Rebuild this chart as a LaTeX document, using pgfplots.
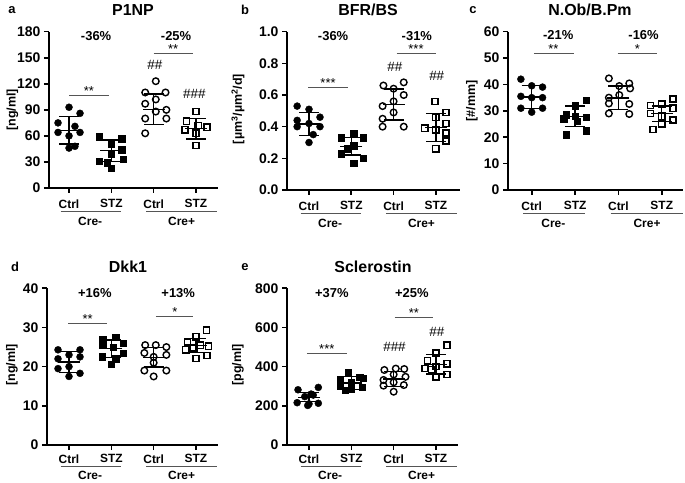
\documentclass[border=0pt]{standalone}
\usepackage{fontspec}
\setmainfont{Liberation Sans}
\usepackage{pgfplots}
\pgfplotsset{compat=1.18}
\definecolor{lgray}{RGB}{85,85,85}
\newcommand{\lblfont}{\fontsize{12}{12}\selectfont\bfseries}
\newcommand{\ylfont}{\fontsize{12.5}{12.5}\selectfont\bfseries}
\newcommand{\pctfont}{\fontsize{13}{13}\selectfont\bfseries}
\newcommand{\starfont}{\fontsize{13}{13}\selectfont}
\newcommand{\hashfont}{\fontsize{13.5}{13.5}\selectfont}
\newcommand{\ttlfont}{\fontsize{16}{16}\selectfont\bfseries}
\pgfplotsset{
 panel/.style={
  scale only axis, anchor=south west,
  axis x line*=bottom, axis y line*=left,
  axis line style={line width=1.6bp, black},
  tick style={line width=1.6bp, black},
  major tick length=5bp, tick align=outside,
  xtick={0,1,2,3}, xticklabels={Ctrl,STZ,Ctrl,STZ},
  xticklabel style={font=\lblfont, yshift=-3bp},
  yticklabel style={font=\fontsize{14}{14}\selectfont\bfseries},
  /pgf/number format/assume math mode=true,
  clip=false, ymin=0,
 },
 fc/.style={only marks, black, mark=*, mark size=3.5bp},
 fs/.style={only marks, black, mark=square*, mark size=3.2bp},
 oc/.style={only marks, black, mark=o, mark size=3.3bp, mark options={line width=1.4bp}},
 os/.style={only marks, black, mark=square, mark size=3.1bp, mark options={line width=1.4bp}},
 msd/.style={only marks, black, mark=-, mark size=11bp, mark options={line width=1.4bp},
   error bars/.cd, y dir=both, y explicit,
   error bar style={line width=1.4bp, black},
   error mark options={rotate=90, mark size=10bp, line width=1.4bp, black}},
}
\newcommand{\grp}[2]{%
 \draw[lgray, line width=1bp] ([yshift=-#1]axis cs:-0.2,0) -- ([yshift=-#1]axis cs:1.22,0);
 \draw[lgray, line width=1bp] ([yshift=-#1]axis cs:1.82,0) -- ([yshift=-#1]axis cs:3.5,0);
 \node[font=\lblfont] at ([yshift=-#2]axis cs:0.5,0) {Cre-};
 \node[font=\lblfont] at ([yshift=-#2]axis cs:2.66,0) {Cre+};
}
\newcommand{\br}[5]{%
 \draw[lgray, line width=1bp] (axis cs:#1,#3) -- (axis cs:#2,#3);
 \node[font=\starfont, anchor=base, inner sep=0pt] at ([yshift=0bp]axis cs:#4,#3) {#5};
}
\begin{document}
\begin{tikzpicture}
\useasboundingbox (0,0) rectangle (685bp,483bp);
% ---------------- panel a
\begin{axis}[panel, at={(49bp,295bp)}, width=169bp, height=156.3bp,
  xmin=-0.473, xmax=3.52, ymax=180, ytick={0,30,...,180}]
\addplot[fc] coordinates {(0,93) (0.26,86) (-0.26,75) (0.14,71) (-0.26,64) (0.26,64) (0,60) (0.14,48) (0,46)};
\addplot[fs] coordinates {(0.72,59) (1.24,57) (1,51) (1.24,44) (1,39) (1.28,33) (0.72,31) (0.9,29) (1,23)};
\addplot[oc] coordinates {(2.05,123) (1.8,110) (2.28,110) (2.05,102) (1.8,97) (2.3,90) (2.05,88) (1.8,80) (2.3,80) (1.8,63)};
\addplot[os] coordinates {(3,88) (2.78,77) (3.05,72) (3.26,70) (2.74,67) (3,63) (3,49)};
\addplot[msd] coordinates {(0,66.5) +- (0,16) (1,43) +- (0,12.5) (2,90.6) +- (0,17.8) (3,68.3) +- (0,12)};
\node[font=\pctfont] at (axis cs:0.64,175) {-36\%};
\node[font=\pctfont] at (axis cs:2.53,175) {-25\%};
\br{0}{0.95}{107}{0.47}{**}
\br{2}{2.92}{155}{2.46}{**}
\node[font=\hashfont] at (axis cs:2.03,141.7) {\#\#};
\node[font=\hashfont] at (axis cs:2.96,108.4) {\#\#\#};
\grp{23.5bp}{33.7bp}
\end{axis}
% ---------------- panel b
\begin{axis}[panel, at={(287bp,293bp)}, width=173bp, height=158.3bp,
  xmin=-0.52, xmax=3.57, ymax=1.0, ytick={0,0.2,...,1.0},
  yticklabel style={/pgf/number format/.cd, fixed, fixed zerofill, precision=1}]
\addplot[fc] coordinates {(-0.28,0.53) (0,0.51) (0.26,0.46) (-0.28,0.44) (0,0.42) (-0.28,0.40) (0.26,0.40) (0.1,0.35) (0,0.30)};
\addplot[fs] coordinates {(1.06,0.36) (0.76,0.33) (1.28,0.33) (1.06,0.28) (0.9,0.26) (0.76,0.23) (1.28,0.20) (1.06,0.17)};
\addplot[oc] coordinates {(2.24,0.68) (1.76,0.66) (2,0.64) (2.24,0.60) (2,0.56) (1.74,0.53) (2,0.49) (1.74,0.45) (2.24,0.40) (1.74,0.40)};
\addplot[os] coordinates {(2.98,0.56) (3.24,0.49) (3,0.46) (3.24,0.42) (2.74,0.39) (3,0.38) (3.24,0.36) (3.24,0.31) (3,0.26)};
\addplot[msd] coordinates {(0,0.416) +- (0,0.073) (1,0.275) +- (0,0.055) (2,0.54) +- (0,0.097) (3,0.395) +- (0,0.088)};
\node[font=\pctfont] at (axis cs:0.57,0.975) {-36\%};
\node[font=\pctfont] at (axis cs:2.55,0.975) {-31\%};
\br{-0.02}{0.93}{0.648}{0.45}{***}
\br{2.07}{3.0}{0.863}{2.53}{***}
\node[font=\hashfont] at (axis cs:2.03,0.779) {\#\#};
\node[font=\hashfont] at (axis cs:3.02,0.718) {\#\#};
\grp{23.5bp}{33.7bp}
\end{axis}
% ---------------- panel c
\begin{axis}[panel, at={(508bp,293bp)}, width=175bp, height=158.3bp,
  xmin=-0.547, xmax=3.49, ymax=60, ytick={0,10,...,60}]
\addplot[fc] coordinates {(-0.25,42) (0,39.5) (0.25,39) (-0.25,35.5) (0,35) (0.25,35) (-0.25,31) (0.25,31) (0,29.5)};
\addplot[fs] coordinates {(1.26,34) (1,32) (0.8,28.5) (1,28) (1.26,27.5) (0.74,27) (1.05,26) (1.26,22.5) (0.8,21)};
\addplot[oc] coordinates {(1.78,42.3) (2.25,40.4) (2.02,39.4) (2.27,38.5) (2.02,36) (1.78,35) (1.78,32.8) (2.25,32.6) (1.78,29) (2.25,28.8)};
\addplot[os] coordinates {(3.26,34.5) (3,32.5) (2.74,32) (3.26,31) (2.74,29) (3,28) (3.26,26.5) (3,25) (2.8,23)};
\addplot[msd] coordinates {(0,35.2) +- (0,4.3) (1,27.9) +- (0,3.9) (2,34.9) +- (0,4.5) (3,28.9) +- (0,3)};
\node[font=\pctfont] at (axis cs:0.61,58.6) {-21\%};
\node[font=\pctfont] at (axis cs:2.58,58.6) {-16\%};
\br{0.05}{0.98}{51.8}{0.5}{**}
\br{1.98}{2.9}{51.8}{2.44}{*}
\grp{23.5bp}{33.7bp}
\end{axis}
% ---------------- panel d
\begin{axis}[panel, at={(47bp,38bp)}, width=171bp, height=156.7bp,
  xmin=-0.52, xmax=3.52, ymax=40, ytick={0,10,...,40},
  xticklabel style={yshift=2bp}]
\addplot[fc] coordinates {(-0.26,24.3) (0.26,24.3) (0,23) (0.26,22.5) (-0.26,22) (0,20) (-0.26,19.5) (0.26,18.3) (0,17.5)};
\addplot[fs] coordinates {(1.1,27.5) (0.8,27) (1.28,26) (0.8,25.5) (1.05,25) (1.28,23.5) (0.78,22.5) (1.1,22) (1,20.7)};
\addplot[oc] coordinates {(1.8,25.5) (2.05,25.5) (2.3,25) (1.78,23.5) (2.3,23) (2,22.5) (2,21) (1.78,19) (2.3,19) (2,17.5)};
\addplot[os] coordinates {(3.25,29.3) (3,27.6) (2.8,26.3) (3.1,25.5) (3.3,25.2) (2.95,24.8) (2.76,24.3) (3.26,22.8) (3,22.1)};
\addplot[msd] coordinates {(0,21.2) +- (0,2.7) (1,24.6) +- (0,2.2) (2,22.4) +- (0,2.5) (3,25.4) +- (0,1.8)};
\node[font=\pctfont] at (axis cs:0.61,38.9) {+16\%};
\node[font=\pctfont] at (axis cs:2.58,38.9) {+13\%};
\br{-0.02}{0.89}{31.1}{0.44}{**}
\br{2.05}{2.94}{32.9}{2.5}{*}
\grp{21.7bp}{30.5bp}
\end{axis}
% ---------------- panel e
\begin{axis}[panel, at={(287bp,38bp)}, width=171bp, height=156.7bp,
  xmin=-0.52, xmax=3.52, ymax=800, ytick={0,200,...,800},
  xticklabel style={yshift=2bp}]
\addplot[fc] coordinates {(0.22,294) (-0.26,282) (0.05,260) (0.1,255) (-0.1,247) (-0.28,216) (0.22,213) (0,210) (-0.03,202)};
\addplot[fs] coordinates {(0.92,370) (1.2,345) (1.28,340) (0.74,335) (1,320) (0.74,300) (1.26,295) (1,285) (0.85,280)};
\addplot[oc] coordinates {(2.05,390) (2.25,388) (1.78,383) (2,360) (2.28,348) (1.76,332) (2,320) (2.24,306) (1.76,303) (2,272)};
\addplot[os] coordinates {(3.26,510) (3,470) (2.8,430) (3.26,415) (3,400) (2.74,390) (2.9,385) (3.26,360) (3,348)};
\addplot[msd] coordinates {(0,244) +- (0,23) (1,317) +- (0,33) (2,336) +- (0,38) (3,412) +- (0,50)};
\node[font=\pctfont] at (axis cs:0.54,778) {+37\%};
\node[font=\pctfont] at (axis cs:2.43,778) {+25\%};
\br{-0.05}{0.89}{468}{0.42}{***}
\br{2.02}{2.94}{650}{2.48}{**}
\node[font=\hashfont] at (axis cs:2.02,499) {\#\#\#};
\node[font=\hashfont] at (axis cs:3.02,579) {\#\#};
\grp{21.7bp}{30.5bp}
\end{axis}
% ---------------- titles, letters, y labels
\node[font=\fontsize{13}{13}\selectfont\bfseries] at (12bp,473bp) {a};
\node[font=\fontsize{13}{13}\selectfont\bfseries] at (245bp,473bp) {b};
\node[font=\fontsize{13}{13}\selectfont\bfseries] at (473bp,473bp) {c};
\node[font=\fontsize{13}{13}\selectfont\bfseries] at (15bp,216bp) {d};
\node[font=\fontsize{13}{13}\selectfont\bfseries] at (245bp,216bp) {e};
\node[font=\ttlfont] at (133bp,473bp) {P1NP};
\node[font=\ttlfont] at (368bp,473bp) {BFR/BS};
\node[font=\ttlfont] at (590bp,473bp) {N.Ob/B.Pm};
\node[font=\ttlfont] at (128bp,216bp) {Dkk1};
\node[font=\ttlfont] at (373bp,216bp) {Sclerostin};
\node[font=\ylfont, rotate=90] at (12.5bp,373bp) {[ng/ml]};
\node[font=\ylfont, rotate=90] at (238bp,374bp) {[µm\textsuperscript{3}/µm\textsuperscript{2}/d]};
\node[font=\ylfont, rotate=90] at (472bp,382bp) {[\#/mm]};
\node[font=\ylfont, rotate=90] at (12bp,118bp) {[ng/ml]};
\node[font=\ylfont, rotate=90] at (238bp,118bp) {[pg/ml]};
\end{tikzpicture}
\end{document}
